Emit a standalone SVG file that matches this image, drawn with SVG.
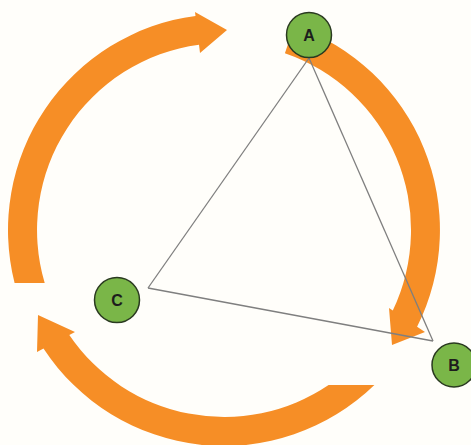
<svg xmlns="http://www.w3.org/2000/svg" width="471" height="445" viewBox="0 0 471 445">
  <style>
    .arrow { fill: #F68E26; stroke: none; }
    .edge { fill: none; stroke: #7f7f7f; stroke-width: 1.3; }
    .node circle { fill: #7AB648; stroke: #2a3a20; stroke-width: 1.5; }
    .node text { font-family: "Liberation Sans", Arial, sans-serif; font-weight: bold; font-size: 16px; fill: #1d1d1d; text-anchor: middle; }
  </style>
  <rect x="0" y="0" width="471" height="445" fill="#FFFEFA"/>
  <g id="cycle-arrows">
    <path id="arrow-left" class="arrow" d="M 44.7,283 L 14.6,283 A 216 216 0 0 1 195.5,15.9 L 195,12 L 227,30 L 200,53 L 199,44.7 A 187 187 0 0 0 44.7,283 Z"/>
    <path id="arrow-right" class="arrow" d="M 284.9,53.2 L 294.3,25.8 A 216 216 0 0 1 417.1,326.7 L 425,332 L 392,345 L 389,308 L 392.8,310.5 A 187 187 0 0 0 284.9,53.2 Z"/>
    <path id="arrow-bottom" class="arrow" d="M 328.6,385 L 374.4,385 A 216 216 0 0 1 43.5,348.6 L 37,352 L 38,315 L 75,332 L 69.3,335 A 187 187 0 0 0 328.6,385 Z"/>
  </g>
  <g id="connectors">
    <line class="edge" x1="309" y1="58" x2="433" y2="341"/>
    <line class="edge" x1="433" y1="341" x2="148" y2="288"/>
    <line class="edge" x1="148" y1="288" x2="309" y2="58"/>
  </g>
  <g id="node-A" class="node">
    <circle cx="309" cy="35" r="22.5"/>
    <text x="309" y="41">A</text>
  </g>
  <g id="node-B" class="node">
    <circle cx="454" cy="365" r="22"/>
    <text x="454" y="371">B</text>
  </g>
  <g id="node-C" class="node">
    <circle cx="117" cy="300" r="22.5"/>
    <text x="117" y="306">C</text>
  </g>
</svg>
